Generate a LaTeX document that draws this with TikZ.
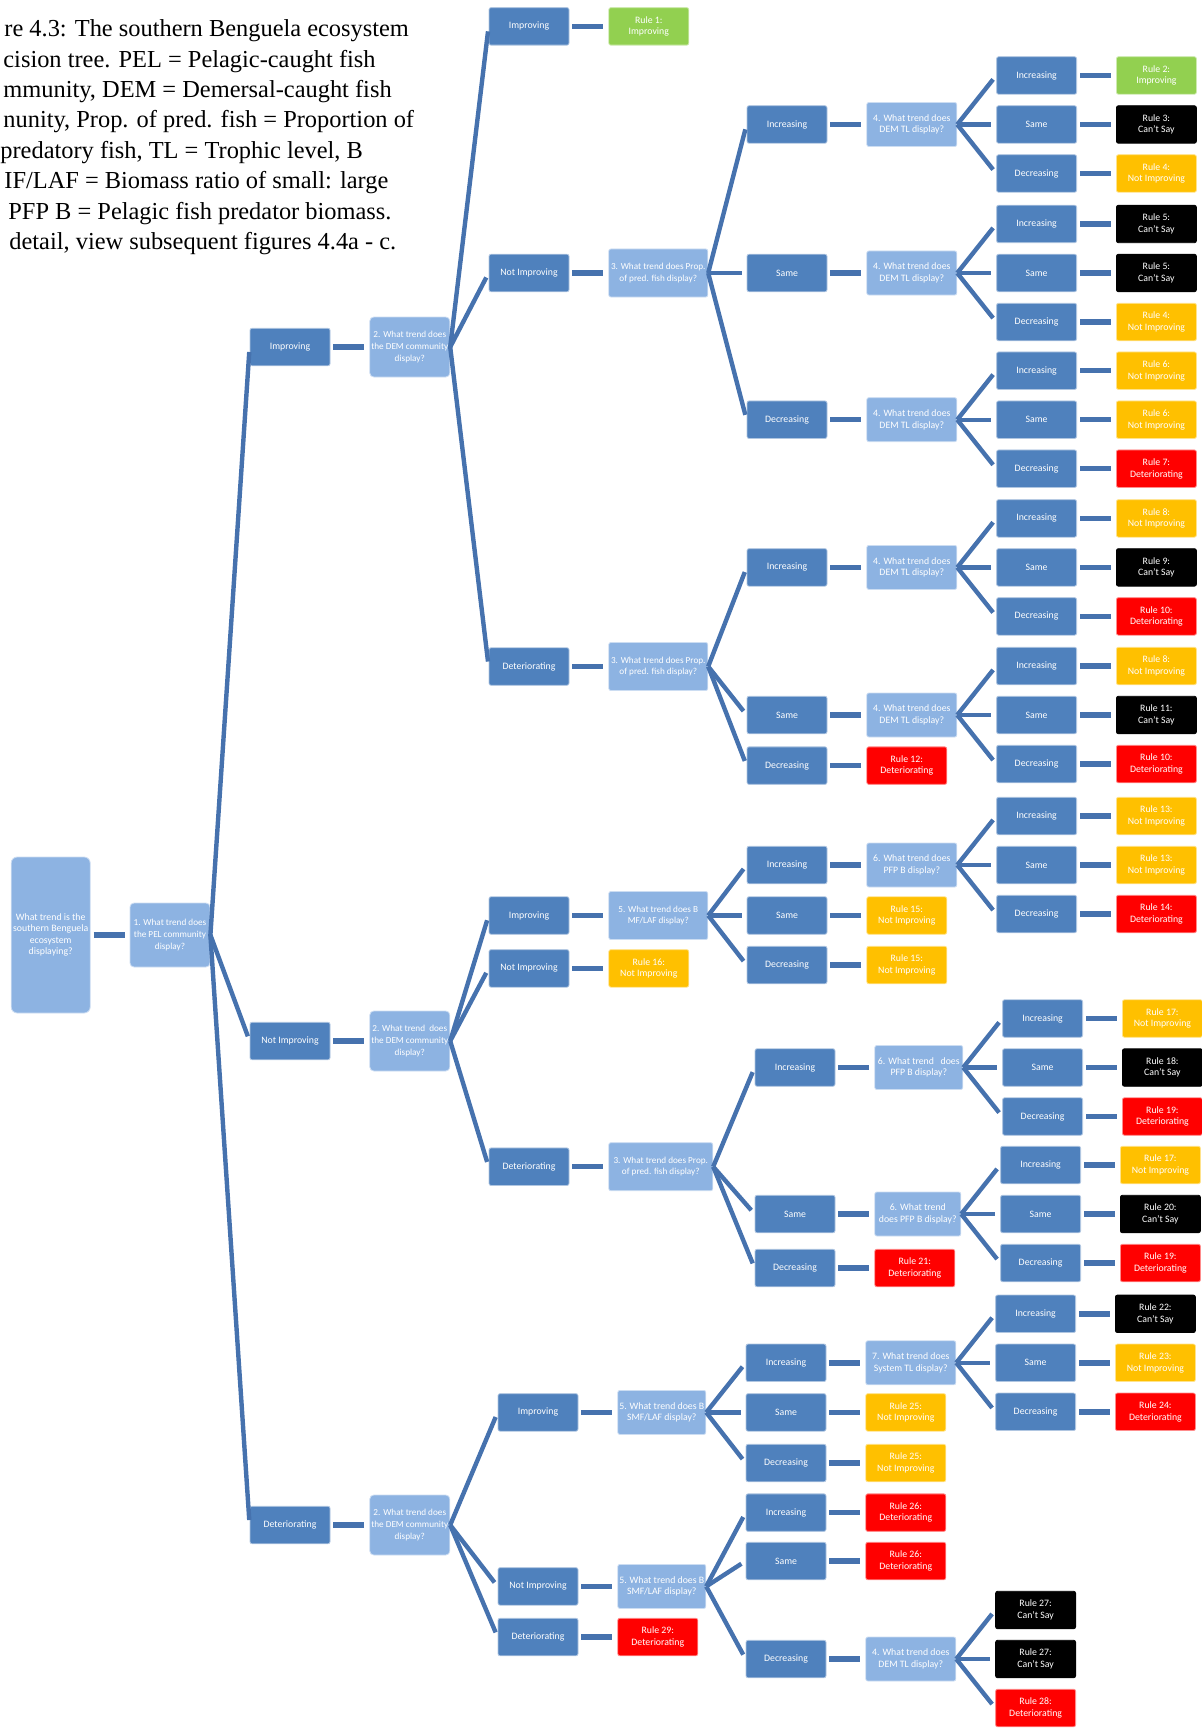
\documentclass[tikz,border=0pt]{standalone}
\usepackage{fontspec}
\setmainfont{Liberation Serif}
\newfontfamily\boxfont{Carlito}
\usetikzlibrary{positioning}
\definecolor{boxblue}{HTML}{4F81BD}
\definecolor{askblue}{HTML}{8DB3E2}
\definecolor{linkblue}{HTML}{4672AE}
\definecolor{okgreen}{HTML}{92D050}
\definecolor{warnyellow}{HTML}{FFC000}
\definecolor{badred}{HTML}{FF0000}
\tikzset{
  box/.style={line width=0.4pt, rounded corners=1pt, text=white, align=center,
    font=\boxfont\fontsize{4.9}{5.8}\selectfont, inner sep=0.3pt,
    minimum width=40pt, minimum height=18.75pt},
  trend/.style={box, fill=boxblue, draw=white!55!boxblue},
  ask/.style={box, fill=askblue, draw=white!55!askblue, minimum width=45pt, minimum height=22pt},
  askwide/.style={ask, font=\boxfont\fontsize{4.6}{5.8}\selectfont, minimum width=49.5pt, minimum height=24pt},
  askbig/.style={ask, font=\boxfont\fontsize{4.6}{5.8}\selectfont, minimum width=40pt, minimum height=30pt, rounded corners=2pt},
  good/.style={box, fill=okgreen, draw=white!55!okgreen},
  warn/.style={box, fill=warnyellow, draw=white!55!warnyellow},
  bad/.style={box, fill=badred, draw=white!55!badred},
  unsure/.style={box, fill=black, draw=black},
  link/.style={draw=linkblue, line width=2.2pt, shorten >=2.5pt},
  stub/.style={draw=linkblue, line width=2.7pt, shorten <=1.5pt, shorten >=2.5pt},
  captext/.style={anchor=base west, inner sep=0pt, font=\fontsize{12.2}{14}\selectfont}
}
\begin{document}
\begin{tikzpicture}[x=0.5pt, y=-0.5pt]
\useasboundingbox (0,0) rectangle (1202,1728);

% 0. Caption, cut at the left edge
\foreach \cx/\txt [count=\i] in {4/{re 4.3: The southern Benguela ecosystem},
    3/{cision tree. PEL = Pelagic-caught fish}, 3/{mmunity, DEM = Demersal-caught fish},
    3/{nunity, Prop. of pred. fish = Proportion of}, 0/{predatory fish, TL = Trophic level, B},
    4/{IF/LAF = Biomass ratio of small: large}, 8/{PFP B = Pelagic fish predator biomass.},
    9/{detail, view subsequent figures 4.4a - c.}}
  \node[captext] (cap\i) at (\cx, {36.7+30.4*(\i-1)}) {\txt};

% 1. Root and PEL question
\node[ask, minimum width=39.5pt, minimum height=78pt, rounded corners=3pt] (root) at (50.7,935)
  {What trend is the\\southern Benguela\\ecosystem\\displaying?};
\node[askbig, minimum height=32pt, right=19.5pt of root] (q1) {1. What trend does\\the PEL community\\display?};
\draw[stub] (root) -- (q1);

% 2. PEL trend -> DEM question
\node[trend] (pImp) at (290,347) {Improving};
\node[trend] (pNot) at (290,1041) {Not Improving};
\node[trend] (pDet) at (290,1525) {Deteriorating};
\foreach \n in {pImp,pNot,pDet} \draw[link] (q1.east) -- (\n.west);
\node[askbig, right=19.5pt of pImp] (dA) {2. What trend does\\the DEM community\\display?};
\node[askbig, right=19.5pt of pNot] (dB) {2. What trend\ \ does\\the DEM community\\display?};
\node[askbig, right=19.5pt of pDet] (dC) {2. What trend does\\the DEM community\\display?};
\draw[stub] (pImp) -- (dA);
\draw[stub] (pNot) -- (dB);
\draw[stub] (pDet) -- (dC);

% 3. PEL improving
\node[trend] (aImp) at (529,26.4) {Improving};
\node[trend] (aNot) at (529,273) {Not Improving};
\node[trend] (aDet) at (529,666.5) {Deteriorating};
\foreach \n in {aImp,aNot,aDet} \draw[link] (dA.east) -- (\n.west);
\node[good, right=19.5pt of aImp] (r1) {Rule 1:\\Improving};
\node[askwide, right=19.5pt of aNot] (qA) {3. What trend does Prop.\\of pred. fish display?};
\node[askwide, right=19.5pt of aDet] (qB) {3. What trend does Prop.\\of pred. fish display?};
\draw[stub] (aImp) -- (r1);
\draw[stub] (aNot) -- (qA);
\draw[stub] (aDet) -- (qB);
\node[trend] (aInc) at (787,124.5) {Increasing};
\node[trend] (aSam) at (787,273) {Same};
\node[trend] (aDec) at (787,419.7) {Decreasing};
\foreach \n in {aInc,aSam,aDec} \draw[link] (qA.east) -- (\n.west);
\node[trend] (bInc) at (787,567.4) {Increasing};
\node[trend] (bSam) at (787,715) {Same};
\node[trend] (bDec) at (787,765.6) {Decreasing};
\foreach \n in {bInc,bSam,bDec} \draw[link] (qB.east) -- (\n.west);
\node[ask, right=19.5pt of aInc] (aIncQ) {4. What trend does\\DEM TL display?};
\node[ask, right=19.5pt of aSam] (aSamQ) {4. What trend does\\DEM TL display?};
\node[ask, right=19.5pt of aDec] (aDecQ) {4. What trend does\\DEM TL display?};
\node[ask, right=19.5pt of bInc] (bIncQ) {4. What trend does\\DEM TL display?};
\node[ask, right=19.5pt of bSam] (bSamQ) {4. What trend does\\DEM TL display?};
\node[bad, right=19.5pt of bDec] (r12) {Rule 12:\\Deteriorating};
\foreach \a/\b in {aInc/aIncQ, aSam/aSamQ, aDec/aDecQ, bInc/bIncQ, bSam/bSamQ, bDec/r12}
  \draw[stub] (\a) -- (\b);

% 4. PEL not improving
\node[trend] (bImp) at (529,915.5) {Improving};
\node[trend] (bNot) at (529,968.4) {Not Improving};
\node[trend] (bDet) at (529,1166.7) {Deteriorating};
\foreach \n in {bImp,bNot,bDet} \draw[link] (dB.east) -- (\n.west);
\node[askwide, right=19.5pt of bImp] (qM) {5. What trend does B\\MF/LAF display?};
\node[warn, right=19.5pt of bNot] (r16) {Rule 16:\\Not Improving};
\node[askwide, minimum width=52pt, right=19.5pt of bDet] (qC) {3. What trend does Prop.\\of pred. fish display?};
\draw[stub] (bImp) -- (qM);
\draw[stub] (bNot) -- (r16);
\draw[stub] (bDet) -- (qC);
\node[trend] (mInc) at (787,865) {Increasing};
\node[trend] (mSam) at (787,915.5) {Same};
\node[trend] (mDec) at (787,965) {Decreasing};
\foreach \n in {mInc,mSam,mDec} \draw[link] (qM.east) -- (\n.west);
\node[ask, right=19.5pt of mInc] (mIncQ) {6. What trend does\\PFP B display?};
\node[warn, right=19.5pt of mSam] (r15a) {Rule 15:\\Not Improving};
\node[warn, right=19.5pt of mDec] (r15b) {Rule 15:\\Not Improving};
\node[trend] (cInc) at (795,1067.5) {Increasing};
\node[trend] (cSam) at (795,1214) {Same};
\node[trend] (cDec) at (795,1268) {Decreasing};
\foreach \n in {cInc,cSam,cDec} \draw[link] (qC.east) -- (\n.west);
\node[ask, minimum width=44pt, right=19.5pt of cInc] (cIncQ) {6. What trend\ \ \ does\\PFP B display?};
\node[ask, minimum width=43pt, right=19.5pt of cSam] (cSamQ) {6. What trend\\does PFP B display?};
\node[bad, right=19.5pt of cDec] (r21) {Rule 21:\\Deteriorating};
\foreach \a/\b in {mInc/mIncQ, mSam/r15a, mDec/r15b, cInc/cIncQ, cSam/cSamQ, cDec/r21}
  \draw[stub] (\a) -- (\b);

% 5. PEL deteriorating
\node[trend] (cImp) at (538,1412.4) {Improving};
\node[trend] (cNot) at (538,1586.4) {Not Improving};
\node[trend] (cDet) at (538,1637) {Deteriorating};
\foreach \n in {cImp,cNot,cDet} \draw[link] (dC.east) -- (\n.west);
\node[ask, minimum width=44pt, right=19.5pt of cImp] (qS) {5. What trend does B\\SMF/LAF display?};
\node[ask, minimum width=44pt, right=19.5pt of cNot] (qT) {5. What trend does B\\SMF/LAF display?};
\node[bad, right=19.5pt of cDet] (r29) {Rule 29:\\Deteriorating};
\draw[stub] (cImp) -- (qS);
\draw[stub] (cNot) -- (qT);
\draw[stub] (cDet) -- (r29);
\node[trend] (sInc) at (786,1362.8) {Increasing};
\node[trend] (sSam) at (786,1412.4) {Same};
\node[trend] (sDec) at (786,1463) {Decreasing};
\foreach \n in {sInc,sSam,sDec} \draw[link] (qS.east) -- (\n.west);
\node[trend] (tInc) at (786,1512.6) {Increasing};
\node[trend] (tSam) at (786,1561) {Same};
\node[trend] (tDec) at (786,1659) {Decreasing};
\foreach \n in {tInc,tSam,tDec} \draw[link] (qT.east) -- (\n.west);
\node[ask, right=19.5pt of sInc] (sIncQ) {7. What trend does\\System TL display?};
\node[warn, right=19.5pt of sSam] (r25a) {Rule 25:\\Not Improving};
\node[warn, right=19.5pt of sDec] (r25b) {Rule 25:\\Not Improving};
\node[bad, right=19.5pt of tInc] (r26a) {Rule 26:\\Deteriorating};
\node[bad, right=19.5pt of tSam] (r26b) {Rule 26:\\Deteriorating};
\node[ask, right=19.5pt of tDec] (tDecQ) {4. What trend does\\DEM TL display?};
\foreach \a/\b in {sInc/sIncQ, sSam/r25a, sDec/r25b, tInc/r26a, tSam/r26b, tDec/tDecQ}
  \draw[stub] (\a) -- (\b);
\node[unsure, right=19.5pt of tDecQ, yshift=24.5pt] (r27a) {Rule 27:\\Can’t Say};
\node[unsure, right=19.5pt of tDecQ] (r27b) {Rule 27:\\Can’t Say};
\node[bad, right=19.5pt of tDecQ, yshift=-24.5pt] (r28) {Rule 28:\\Deteriorating};
\foreach \n in {r27a,r27b,r28} \draw[link] (tDecQ.east) -- (\n.west);

% 6. Last trend column and the rules
\foreach \grp/\up in {gA/aIncQ, gB/aSamQ, gC/aDecQ, gD/bIncQ, gE/bSamQ, gF/mIncQ, gG/cIncQ, gH/cSamQ, gJ/sIncQ}{
  \node[trend, right=19.5pt of \up, yshift=24.5pt] (\grp1) {Increasing};
  \node[trend, right=19.5pt of \up] (\grp2) {Same};
  \node[trend, right=19.5pt of \up, yshift=-24.5pt] (\grp3) {Decreasing};
  \foreach \k in {1,2,3} \draw[link] (\up.east) -- (\grp\k.west);
}
\foreach \leaf/\sty/\num/\word in {gA1/good/2/Improving, gA2/unsure/3/Can’t Say, gA3/warn/4/Not Improving,
    gB1/unsure/5/Can’t Say, gB2/unsure/5/Can’t Say, gB3/warn/4/Not Improving,
    gC1/warn/6/Not Improving, gC2/warn/6/Not Improving, gC3/bad/7/Deteriorating,
    gD1/warn/8/Not Improving, gD2/unsure/9/Can’t Say, gD3/bad/10/Deteriorating,
    gE1/warn/8/Not Improving, gE2/unsure/11/Can’t Say, gE3/bad/10/Deteriorating,
    gF1/warn/13/Not Improving, gF2/warn/13/Not Improving, gF3/bad/14/Deteriorating,
    gG1/warn/17/Not Improving, gG2/unsure/18/Can’t Say, gG3/bad/19/Deteriorating,
    gH1/warn/17/Not Improving, gH2/unsure/20/Can’t Say, gH3/bad/19/Deteriorating,
    gJ1/unsure/22/Can’t Say, gJ2/warn/23/Not Improving, gJ3/bad/24/Deteriorating}{
  \node[\sty, right=19.5pt of \leaf] (r\leaf) {Rule \num:\\\word};
  \draw[stub] (\leaf) -- (r\leaf);
}
\end{tikzpicture}
\end{document}
